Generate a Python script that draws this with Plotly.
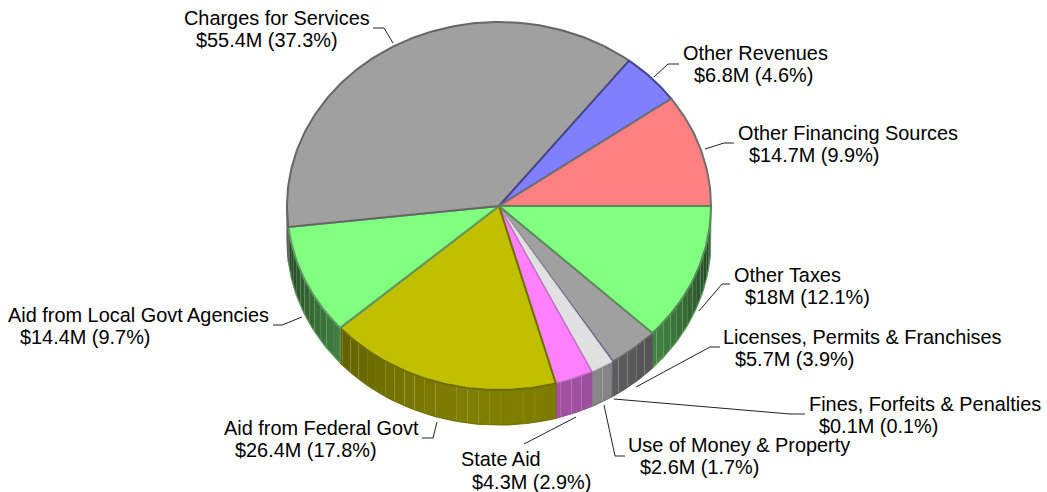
import numpy as np
import plotly.graph_objects as go

categories = ["Other Taxes", "Licenses, Permits & Franchises", "Fines, Forfeits & Penalties",
              "Use of Money & Property", "State Aid", "Aid from Federal Govt",
              "Aid from Local Govt Agencies", "Charges for Services", "Other Revenues",
              "Other Financing Sources"]
values = [18.0, 5.7, 0.1, 2.6, 4.3, 26.4, 14.4, 55.4, 6.8, 14.7]
value_labels = ["$18M (12.1%)", "$5.7M (3.9%)", "$0.1M (0.1%)", "$2.6M (1.7%)", "$4.3M (2.9%)",
                "$26.4M (17.8%)", "$14.4M (9.7%)", "$55.4M (37.3%)", "$6.8M (4.6%)", "$14.7M (9.9%)"]
colors = [(128, 255, 128), (160, 160, 160), (128, 128, 255), (224, 224, 224), (255, 128, 255),
          (192, 192, 0), (128, 255, 128), (160, 160, 160), (128, 128, 255), (255, 128, 128)]
edges = ["#5a8a5a", "#6a6a6a", "#505090", "#c8c8c8", "#c070c0",
         "#6e6e00", "#5f9a5f", "#666666", "#45458c", "#707070"]
edge_widths = [2, 1.5, 1, 1, 1.5, 2, 2, 2, 2, 2]
side_edges = ["#5f9a5f", "#5a5a5a", "#505090", "#777777", "#8a5a8a",
              "#6e6e00", "#5f9a5f", "#666666", "#45458c", "#707070"]
top_order = [1, 2, 3, 4, 5, 6, 7, 8, 9, 0]

# label placement: first line (x, y), second line (x, y)
label_line1 = [(734, 275), (723, 337), (809, 404), (628, 445), (461, 459),
               (224, 428), (8, 315), (184, 18), (683, 53), (738, 133)]
label_line2 = [(745, 297), (735, 359), (819, 426), (640, 467), (472, 482),
               (235, 450), (20, 337), (196, 40), (694, 75), (749, 155)]
leaders = [
    [(699, 311), (722, 284), (730, 284)],
    [(636, 387), (710, 347), (720, 347)],
    [(614, 399), (790, 414), (805, 414)],
    [(604, 405), (615, 456), (625, 456)],
    [(576, 417), (524, 444)],
    [(437, 422), (433, 438), (422, 438)],
    [(302, 317), (282, 325), (273, 325)],
    [(393, 43), (384, 28), (373, 28)],
    [(654, 77), (668, 64), (679, 64)],
    [(705, 149), (724, 143), (734, 143)],
]

CX, CY, RX, RY, DEPTH = 499, 206, 212, 184, 35
FACET = 3.0

def ex(a):
    return CX + RX * np.cos(np.radians(a))

def ey(a):
    return CY + RY * np.sin(np.radians(a))

def rgb(c, f=1.0):
    return "rgb(%d,%d,%d)" % tuple(int(v * f) for v in c)

def shade(a):
    return 0.2 + 0.46 * max(np.sin(np.radians(a)), 0)

total = sum(values)
bounds = np.concatenate([[0], np.cumsum(values) / total * 360])

fig = go.Figure()

# side wall: adjoining facets, the hairline seams come from their antialiased edges
for i, (c, e) in enumerate(zip(colors, side_edges)):
    a0, a1 = bounds[i], min(bounds[i + 1], 180)
    if a0 >= 180:
        continue
    steps = list(np.arange(a0, a1, FACET)) + [a1]
    for s0, s1 in zip(steps[:-1], steps[1:]):
        t = np.linspace(s0, s1, 5)
        col = rgb(c, shade((s0 + s1) / 2))
        fig.add_trace(go.Scatter(
            x=list(ex(t)) + list(ex(t[::-1])),
            y=list(ey(t)) + list(ey(t[::-1]) + DEPTH),
            mode="none", fill="toself", fillcolor=col,
            hoverinfo="skip", showlegend=False))
    t = np.linspace(a0, a1, 40)
    fig.add_trace(go.Scatter(
        x=[ex(a0), ex(a0)] + list(ex(t)) + [ex(a1), ex(a1)],
        y=[ey(a0), ey(a0) + DEPTH] + list(ey(t) + DEPTH) + [ey(a1) + DEPTH, ey(a1)],
        mode="lines", line=dict(width=1.2, color=e),
        hoverinfo="skip", showlegend=False))

# top face
for i in top_order:
    t = np.linspace(bounds[i], bounds[i + 1], max(int(bounds[i + 1] - bounds[i]) + 2, 3))
    fig.add_trace(go.Scatter(
        x=[CX] + list(ex(t)) + [CX], y=[CY] + list(ey(t)) + [CY],
        mode="lines", fill="toself", fillcolor=rgb(colors[i]),
        line=dict(width=edge_widths[i], color=edges[i]), name=categories[i],
        showlegend=False, hoverinfo="name"))

# leaders
for pts in leaders:
    fig.add_trace(go.Scatter(x=[p[0] for p in pts], y=[p[1] for p in pts], mode="lines",
                             line=dict(width=1, color="#222222"),
                             hoverinfo="skip", showlegend=False))

# labels
FONT = dict(family="Liberation Sans, Arial, sans-serif", size=19.9, color="black")
for name, val, p1, p2 in zip(categories, value_labels, label_line1, label_line2):
    for txt, p in ((name, p1), (val, p2)):
        fig.add_annotation(x=p[0], y=p[1], text=txt, showarrow=False, xanchor="left",
                           yanchor="middle", font=FONT, xref="x", yref="y",
                           borderpad=0, borderwidth=0)

fig.update_layout(
    width=1047, height=492, margin=dict(l=0, r=0, t=0, b=0),
    paper_bgcolor="white", plot_bgcolor="white", showlegend=False,
    xaxis=dict(range=[0, 1047], visible=False, fixedrange=True),
    yaxis=dict(range=[492, 0], visible=False, fixedrange=True),
)
fig.write_html("out.html", config=dict(displayModeBar=False),
               post_script="document.body.style.margin='0';document.body.style.overflow='hidden';")
